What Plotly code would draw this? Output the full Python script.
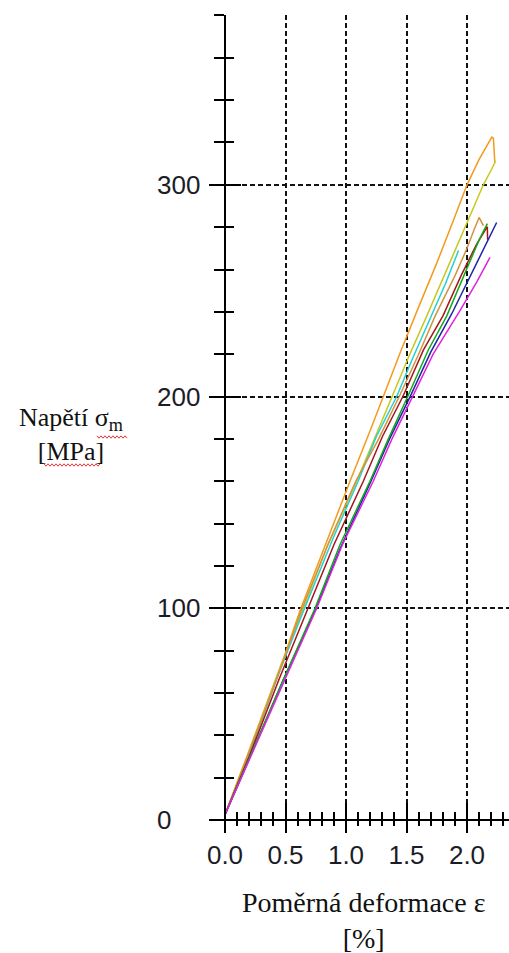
import plotly.graph_objects as go

# Stress-strain curves of the tested specimens: strain [%] and stress [MPa]
orange_eps = [0.0, 0.08, 0.2, 0.35, 0.5, 0.62, 0.8, 1.033, 1.2, 1.306, 1.45, 1.584, 1.75, 1.9, 2.0, 2.1, 2.17, 2.205, 2.218, 2.225, 2.23]
orange_sig = [2.5, 15, 33, 56, 79, 99, 126, 160, 184, 200, 221, 240, 263, 285, 300, 312, 319, 322.5, 322, 315, 310.5]

yellow_eps = [0.0, 0.2, 0.45, 0.645, 0.85, 1.088, 1.25, 1.377, 1.52, 1.667, 1.85, 2.0, 2.08, 2.135, 2.2, 2.235]
yellow_sig = [2.5, 32, 71, 100, 130, 160, 182, 200, 219, 238, 262, 282, 292.5, 300, 307, 311]

cyan_eps = [0.0, 0.2, 0.45, 0.65, 0.9, 1.10, 1.25, 1.419, 1.55, 1.694, 1.82, 1.93]
cyan_sig = [2.5, 31, 70, 99, 134, 160, 181, 200, 218, 237, 253, 269]

tan_eps = [0.0, 0.2, 0.45, 0.63, 0.85, 1.08, 1.27, 1.44, 1.60, 1.736, 1.9, 2.0, 2.06, 2.1, 2.115, 2.135]
tan_sig = [2.5, 32, 70, 99, 130, 160, 180, 200, 220, 238, 257, 270, 279, 284.6, 283, 280.7]

maroon_eps = [0.0, 0.2, 0.45, 0.686, 0.9, 1.143, 1.3, 1.47, 1.64, 1.80, 1.95, 2.08, 2.168, 2.17]
maroon_sig = [2.5, 30, 67, 100, 130, 160, 181, 200, 222, 238, 257, 272, 280.2, 274]

blue_eps = [0.0, 0.2, 0.48, 0.744, 0.95, 1.198, 1.36, 1.53, 1.70, 1.873, 2.0, 2.12, 2.245]
blue_sig = [2.5, 29, 66, 99, 128, 159, 180, 200, 221, 239, 254, 268, 282.2]

green_eps = [0.0, 0.2, 0.48, 0.744, 0.95, 1.198, 1.35, 1.51, 1.68, 1.832, 1.98, 2.1, 2.168]
green_sig = [2.5, 29, 66, 100, 130, 160, 180, 200, 222, 238, 258, 274, 281.7]

magenta_eps = [0.0, 0.2, 0.5, 0.758, 0.97, 1.225, 1.38, 1.55, 1.72, 1.942, 2.08, 2.19]
magenta_sig = [2.5, 28, 67, 100, 130, 160, 180, 200, 220, 240.6, 254, 265.7]

series = [
    (orange_eps, orange_sig, "#f39a1e"),
    (yellow_eps, yellow_sig, "#c6c81e"),
    (cyan_eps, cyan_sig, "#22d0d6"),
    (tan_eps, tan_sig, "#d4923e"),
    (maroon_eps, maroon_sig, "#a2161c"),
    (blue_eps, blue_sig, "#1e24a8"),
    (green_eps, green_sig, "#12a818"),
    (magenta_eps, magenta_sig, "#e022e0"),
]

# Axis ticks and labels
x_tick_vals = [0.0, 0.5, 1.0, 1.5, 2.0]
x_tick_text = ["0.0", "0.5", "1.0", "1.5", "2.0"]
y_tick_vals = [0, 100, 200, 300]
y_tick_text = ["0", "100", "200", "300"]
x_minor_vals = [round(0.1 * i, 1) for i in range(1, 24) if i % 5 != 0]
y_minor_vals = [v for v in range(20, 400, 20) if v % 100 != 0]

W, H = 509, 953
ML, MR, MT, MB = 210, 0, 15, 121
x_range = [-0.124, 2.347]
y_range = [-5.66, 380.2]
x_axis_pos = (0 - y_range[0]) / (y_range[1] - y_range[0])
y_axis_pos = (0 - x_range[0]) / (x_range[1] - x_range[0])


def px_x(p):
    return (p - ML) / (W - ML - MR)


def px_y(p):
    return (H - MB - p) / (H - MB - MT)


fig = go.Figure()
for eps, sig, col in series:
    fig.add_trace(go.Scatter(x=eps, y=sig, mode="lines",
                             line=dict(color=col, width=1.5),
                             showlegend=False, hoverinfo="skip"))
# carrier for the overlay axes that draw the inner half of the ticks
fig.add_trace(go.Scatter(x=[None], y=[None], xaxis="x2", yaxis="y2", mode="lines",
                         showlegend=False, hoverinfo="skip"))

tick_font = dict(family="Liberation Sans, Arial", size=26, color="#1c1c28")
grid = dict(showgrid=True, gridcolor="#111111", gridwidth=1.6, griddash="5px,3px")

fig.update_layout(
    width=W, height=H,
    margin=dict(l=ML, r=MR, t=MT, b=MB, pad=0),
    paper_bgcolor="white", plot_bgcolor="white",
    xaxis=dict(range=x_range, anchor="free", position=x_axis_pos,
               tickmode="array", tickvals=x_tick_vals, ticktext=x_tick_text,
               ticks="outside", ticklen=12, tickwidth=2, tickcolor="black",
               minor=dict(tickmode="array", tickvals=x_minor_vals, ticks="outside",
                          ticklen=5, tickwidth=2, tickcolor="black", showgrid=False),
               showline=True, linecolor="black", linewidth=2, zeroline=False,
               tickfont=tick_font, ticklabelstandoff=0, **grid),
    yaxis=dict(range=y_range, anchor="free", position=y_axis_pos,
               tickmode="array", tickvals=y_tick_vals, showticklabels=False,
               ticks="outside", ticklen=15, tickwidth=2, tickcolor="black",
               minor=dict(tickmode="array", tickvals=y_minor_vals, ticks="outside",
                          ticklen=10, tickwidth=2, tickcolor="black", showgrid=False),
               showline=True, linecolor="black", linewidth=2, zeroline=False, **grid),
    xaxis2=dict(range=x_range, overlaying="x", anchor="free", position=x_axis_pos,
                tickmode="array", tickvals=x_tick_vals, showticklabels=False,
                ticks="inside", ticklen=17, tickwidth=2, tickcolor="black",
                minor=dict(tickmode="array", tickvals=x_minor_vals, ticks="inside",
                           ticklen=8, tickwidth=2, tickcolor="black", showgrid=False),
                showgrid=False, zeroline=False, showline=False),
    yaxis2=dict(range=y_range, overlaying="y", anchor="free", position=y_axis_pos,
                tickmode="array", tickvals=y_tick_vals, showticklabels=False,
                ticks="inside", ticklen=15, tickwidth=2, tickcolor="black",
                minor=dict(tickmode="array", tickvals=y_minor_vals, ticks="inside",
                           ticklen=8, tickwidth=2, tickcolor="black", showgrid=False),
                showgrid=False, zeroline=False, showline=False),
)

# left-aligned stress labels
for v, t in zip(y_tick_vals, y_tick_text):
    fig.add_annotation(x=px_x(155), xref="paper", y=v, yref="y", text=t,
                       xanchor="left", yanchor="middle", showarrow=False, font=tick_font)

title_font = dict(family="Liberation Serif, Times New Roman", size=26, color="#111111")
fig.add_annotation(x=px_x(71), y=px_y(434), xref="paper", yref="paper",
                   text="Napětí σ<sub>m</sub><br>[MPa]", showarrow=False,
                   xanchor="center", yanchor="middle", font=title_font)
fig.add_annotation(x=px_x(363), y=px_y(920), xref="paper", yref="paper",
                   text="Poměrná deformace ε<br>[%]", showarrow=False,
                   xanchor="center", yanchor="middle",
                   font=dict(family="Liberation Serif, Times New Roman", size=28, color="#111111"))


# red wavy spell-check underlines below the stress-axis title
def squiggle(x0, x1, y):
    pts = []
    p, up = x0, True
    while p <= x1:
        pts.append(f"{px_x(p):.5f},{px_y(y - 1.2 if up else y + 1.2):.5f}")
        p += 2
        up = not up
    return "M " + " L ".join(pts)


for x0, x1, y in [(97, 128, 437), (44, 100, 465)]:
    fig.add_shape(type="path", xref="paper", yref="paper", path=squiggle(x0, x1, y),
                  line=dict(color="#e2383c", width=1))

fig.write_html("out.html")
